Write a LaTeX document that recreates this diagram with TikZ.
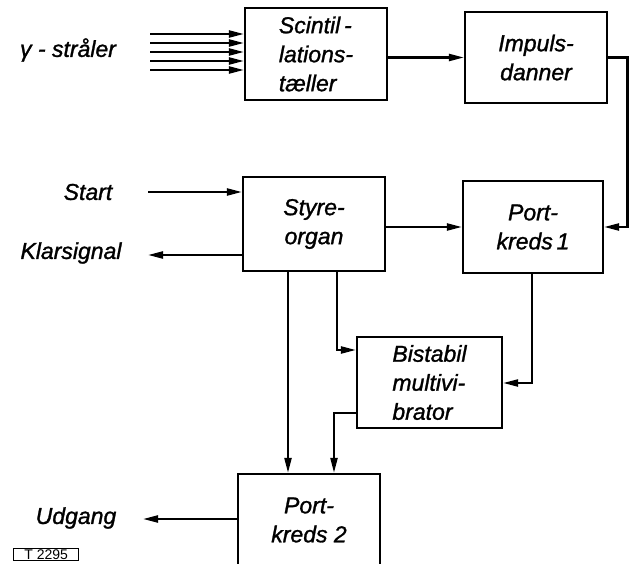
\documentclass[tikz,border=0pt]{standalone}
\usepackage{fontspec}
\setmainfont{Liberation Sans}
\newfontfamily\dinfont{Liberation Sans Italic}[FakeBold=1.2]
\usetikzlibrary{arrows.meta}
\begin{document}
\begin{tikzpicture}[x=1pt,y=-1pt,line width=2.2pt,
  box/.style={draw,line width=2.2pt,inner sep=0pt,font=\fontsize{23}{29}\selectfont\dinfont,align=center},
  lbl/.style={font=\fontsize{23}{28}\selectfont\dinfont,inner sep=0pt},
  arr/.style={-{Triangle[length=15pt,width=7pt]}}]
\fill[white] (0,0) rectangle (629,564);
\useasboundingbox (0,0) rectangle (629,564);
% boxes
\node[box,minimum width=142pt,minimum height=92pt,align=left] (scint) at (316,54) {Scintil\,-\\lations-\\tæller};
\node[box,minimum width=142pt,minimum height=91pt] (imp) at (536,57.5) {Impuls-\\danner};
\node[box,minimum width=142pt,minimum height=94pt] (styre) at (314,224) {Styre-\\organ};
\node[box,minimum width=140pt,minimum height=92pt] (port1) at (533,227) {Port-\\kreds\,1};
\node[box,minimum width=145pt,minimum height=91pt,align=left] (bist) at (429.5,382.5) {Bistabil\\multivi-\\brator};
\node[box,minimum width=142pt,minimum height=92pt] (port2) at (309,520) {Port-\\kreds 2};
% labels
\node[lbl] (gam) at (68,50) {γ - stråler};
\node[lbl] (start) at (88,192) {Start};
\node[lbl] (klar) at (71,253) {Klarsignal};
\node[lbl] (udg) at (76,518) {Udgang};
\node[draw,line width=1.3pt,inner sep=1pt,minimum width=65pt,font=\fontsize{14}{15}\selectfont,anchor=north west] (tnr) at (13,548) {T 2295};
% gamma rays
\foreach \yy [count=\i] in {34,43,52,61,70} {
  \coordinate (g\i) at (150,\yy);
  \draw[arr] (g\i) -- (g\i -| scint.west);
}
% scint -> imp
\draw[arr] (scint.east |- imp.west) -- (imp.west);
% imp -> port1
\coordinate (rr) at (627.5,57.5);
\draw[arr] (imp.east) -- (rr) |- (port1.east);
% start
\coordinate (st) at (148,192);
\draw[arr] (st) -- (st -| styre.west);
% klarsignal
\coordinate (kl) at (148,255);
\draw[arr] (kl -| styre.west) -- (kl);
% styre -> port1
\draw[arr] (styre.east |- port1.west) -- (port1.west);
% styre -> port2
\coordinate (c1) at (288,0);
\draw[arr] (c1 |- styre.south) -- (c1 |- port2.north);
% styre -> bist
\coordinate (c2) at (337,350);
\draw[arr] (c2 |- styre.south) -- (c2) -- (c2 -| bist.west);
% port1 -> bist
\coordinate (c3) at (532,383);
\draw[arr] (c3 |- port1.south) -- (c3) -- (c3 -| bist.east);
% bist -> port2
\coordinate (c4) at (334,413);
\draw[arr] (c4 -| bist.west) -- (c4) -- (c4 |- port2.north);
% port2 -> udgang
\coordinate (ud) at (143,519);
\draw[arr] (ud -| port2.west) -- (ud);
\end{tikzpicture}
\end{document}
